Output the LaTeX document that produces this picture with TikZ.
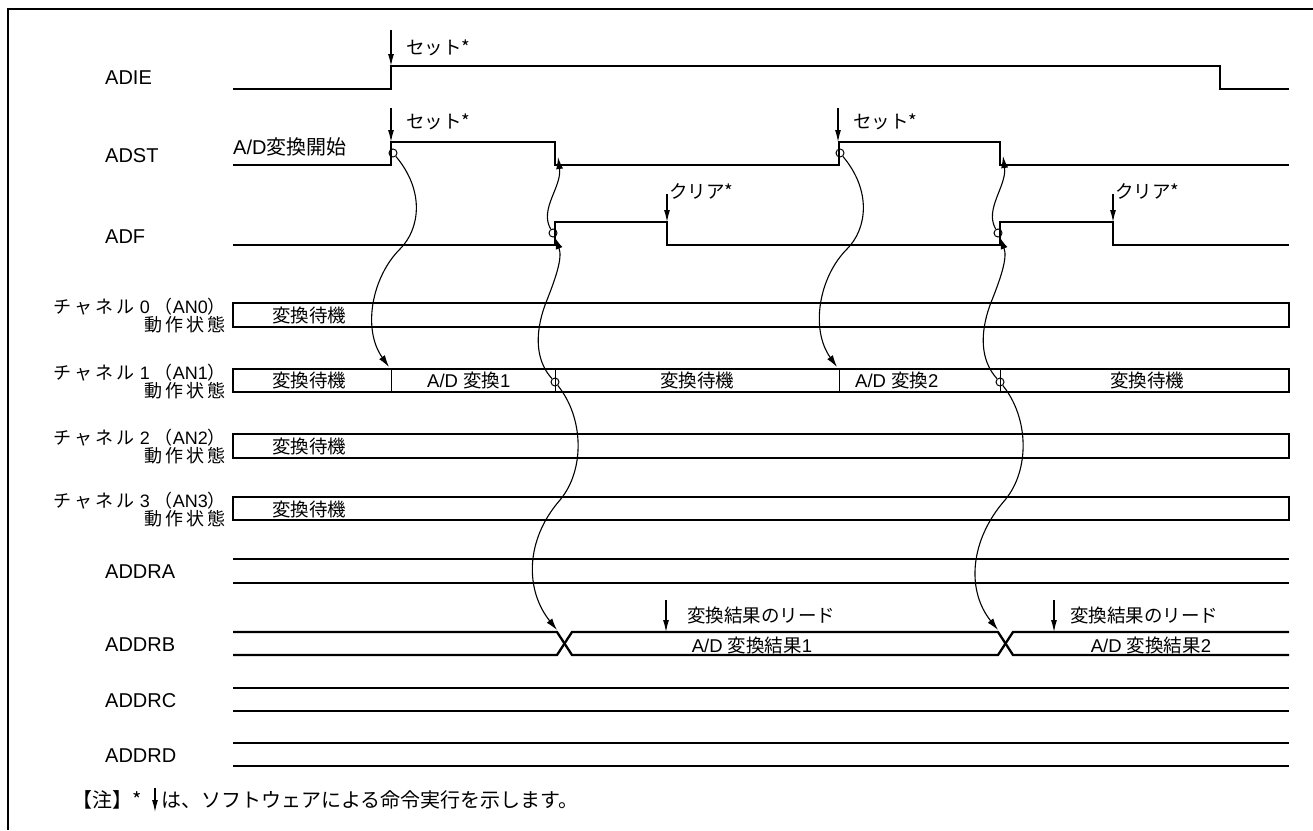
\documentclass[tikz,border=0pt]{standalone}
\usepackage{fontspec}
\setmainfont{Liberation Sans}
\newfontfamily\jp{Noto Sans CJK JP}
\newfontfamily\jpw[LetterSpace=18]{Noto Sans CJK JP}
\usetikzlibrary{arrows.meta,calc}
\begin{document}
\begin{tikzpicture}[x=1pt,y=-1pt,
  every node/.style={inner sep=0pt, font=\fontsize{18.5}{20}\selectfont},
  big/.style={font=\fontsize{20}{22}\selectfont},
  chf/.style={font=\fontsize{18}{20}\selectfont},
  wave/.style={line width=2.5pt},
  bus/.style={line width=2.3pt},
  thinl/.style={line width=1pt},
  swarr/.style={line width=1.1pt, -{Latex[length=12pt,width=6pt]}},
  curve/.style={line width=1.1pt, -{Latex[length=12pt,width=7pt]}},
  dot/.style={draw, circle, line width=1pt, minimum size=8pt, inner sep=0pt},
  lab/.style={anchor=west},
  chl/.style={anchor=base east, chf},
  ]
\useasboundingbox (0,0) rectangle (1313,830);
\draw[line width=2.2pt] (1313,9) -- (8,9) -- (8,830);

% signal names
\node[lab,big] (nADIE) at (105,78) {ADIE};
\node[lab,big] (nADST) at (105,156) {ADST};
\node[lab,big] (nADF)  at (105,237) {ADF};
\node[lab,big] (nADDRA) at (105,572) {ADDRA};
\node[lab,big] (nADDRB) at (105,645) {ADDRB};
\node[lab,big] (nADDRC) at (105,701) {ADDRC};
\node[lab,big] (nADDRD) at (105,756) {ADDRD};
\node[chl] (c0a) at (226,313) {{\jpw チャネル} 0 {\jp （}AN0{\jp ）}};
\node[chl] (c0b) at (226,331) {\jpw 動作状態};
\node[chl] (c1a) at (226,379) {{\jpw チャネル} 1 {\jp （}AN1{\jp ）}};
\node[chl] (c1b) at (226,397) {\jpw 動作状態};
\node[chl] (c2a) at (226,444) {{\jpw チャネル} 2 {\jp （}AN2{\jp ）}};
\node[chl] (c2b) at (226,462) {\jpw 動作状態};
\node[chl] (c3a) at (226,507) {{\jpw チャネル} 3 {\jp （}AN3{\jp ）}};
\node[chl] (c3b) at (226,525) {\jpw 動作状態};

% waveforms
\draw[wave] (233,89) -- (391,89) -- (391,66) -- (1220,66) -- (1220,89) -- (1289,89);
\draw[wave] (233,165) -- (391,165) -- (391,142) -- (555,142) -- (555,165) -- (839,165) -- (839,142) -- (1000,142) -- (1000,165) -- (1289,165);
\draw[wave] (233,245) -- (555,245) -- (555,222) -- (667,222) -- (667,245) -- (1000,245) -- (1000,222) -- (1113,222) -- (1113,245) -- (1289,245);

% channel boxes
\draw[bus] (233,303) rectangle (1289,327);
\draw[bus] (233,369) rectangle (1289,392);
\draw[bus] (233,434) rectangle (1289,458);
\draw[bus] (233,497) rectangle (1289,520);
\foreach \xx in {391,555,839,1000} \draw[thinl] (\xx,369) -- (\xx,392);
\node[lab] (t0) at (272,315) {\jp 変換待機};
\node[lab] (t1a) at (272,380) {\jp 変換待機};
\node[lab] (t1b) at (427,380) {A/D {\jp 変換}1};
\node (t1c) at (697,380) {\jp 変換待機};
\node[lab] (t1d) at (855,380) {A/D {\jp 変換}2};
\node (t1e) at (1147,380) {\jp 変換待機};
\node[lab] (t2) at (272,446) {\jp 変換待機};
\node[lab] (t3) at (272,509) {\jp 変換待機};

% registers
\draw[bus] (233,559) -- (1289,559);
\draw[bus] (233,583) -- (1289,583);
\draw[bus] (233,632) -- (557,632) -- (572,655) -- (998,655) -- (1013,632) -- (1289,632);
\draw[bus] (233,655) -- (557,655) -- (572,632) -- (998,632) -- (1013,655) -- (1289,655);
\draw[bus] (233,688) -- (1289,688);
\draw[bus] (233,711) -- (1289,711);
\draw[bus] (233,743) -- (1289,743);
\draw[bus] (233,766) -- (1289,766);
\node (r1) at (752,645) {A/D {\jp 変換結果}1};
\node (r2) at (1151,645) {A/D {\jp 変換結果}2};

% software arrows and labels
\coordinate (ie) at (391,66);  \coordinate (ieT) at (391,30);
\coordinate (s1) at (391,142); \coordinate (s1T) at (391,108);
\coordinate (s2) at (838,142); \coordinate (s2T) at (838,108);
\coordinate (k1) at (667,222); \coordinate (k1T) at (667,194);
\coordinate (k2) at (1113,222); \coordinate (k2T) at (1113,194);
\coordinate (rd1) at (666,632); \coordinate (rd1T) at (666,600);
\coordinate (rd2) at (1054,632); \coordinate (rd2T) at (1054,600);
\draw[swarr] (ieT) -- (ie);
\draw[swarr] (s1T) -- (s1);
\draw[swarr] (s2T) -- (s2);
\draw[swarr] (k1T) -- (k1);
\draw[swarr] (k2T) -- (k2);
\draw[swarr] (rd1T) -- (rd1);
\draw[swarr] (rd2T) -- (rd2);
\node[lab] (lie) at (406,48) {\jp セット*};
\node[lab] (ls1) at (406,122) {\jp セット*};
\node[lab] (ls2) at (853,122) {\jp セット*};
\node[lab] (lk1) at (669,191) {\jp クリア*};
\node[lab] (lk2) at (1115,191) {\jp クリア*};
\node[lab] (lr1) at (687,615) {\jp 変換結果のリード};
\node[lab] (lr2) at (1070,615) {\jp 変換結果のリード};
\node[lab,big] (start) at (233,147) {A/D{\jp 変換開始}};

% causal curves
\node[dot] (d1) at (393,153) {};
\node[dot] (dfr1) at (553,233) {};
\node[dot] (dce1) at (555,382) {};
\coordinate (cv1) at (389,367);
\coordinate (sf1) at (558,157);
\coordinate (xb1) at (557,630);
\node[dot] (d2) at (840,153) {};
\node[dot] (dfr2) at (998,233) {};
\node[dot] (dce2) at (1000,382) {};
\coordinate (cv2) at (837,367);
\coordinate (sf2) at (1003,156);
\coordinate (xb2) at (998,630);

\foreach \i in {1,2} {
  \draw[curve] (d\i) .. controls +(32,38) and +(20,-20) .. ($(d\i)+(7,96)$) .. controls +(-28,28) and +(-27,-38) .. (cv\i);
  \draw[curve] (dfr\i) .. controls +(-14,-24) and +(4,30) .. (sf\i);
  \draw[curve] (dce\i) .. controls +(-20,-22) and +(-10,28) .. ($(dce\i)+(-10,-77)$) .. controls +(10,-25) and +(10,25) .. (dfr\i);
  \draw[curve] (dce\i) .. controls +(29,36) and +(25,-30) .. ($(dce\i)+(5,118)$) .. controls +(-35,40) and +(-32,-40) .. (xb\i);
}

% note
\coordinate (nt) at (155,788); \coordinate (nb) at (155,812);
\node[lab,big] (note1) at (72,800) {\jp 【注】*};
\draw[swarr] (nt) -- (nb);
\node[lab,big] (note2) at (161,800) {\jp は、ソフトウェアによる命令実行を示します。};
\end{tikzpicture}
\end{document}
